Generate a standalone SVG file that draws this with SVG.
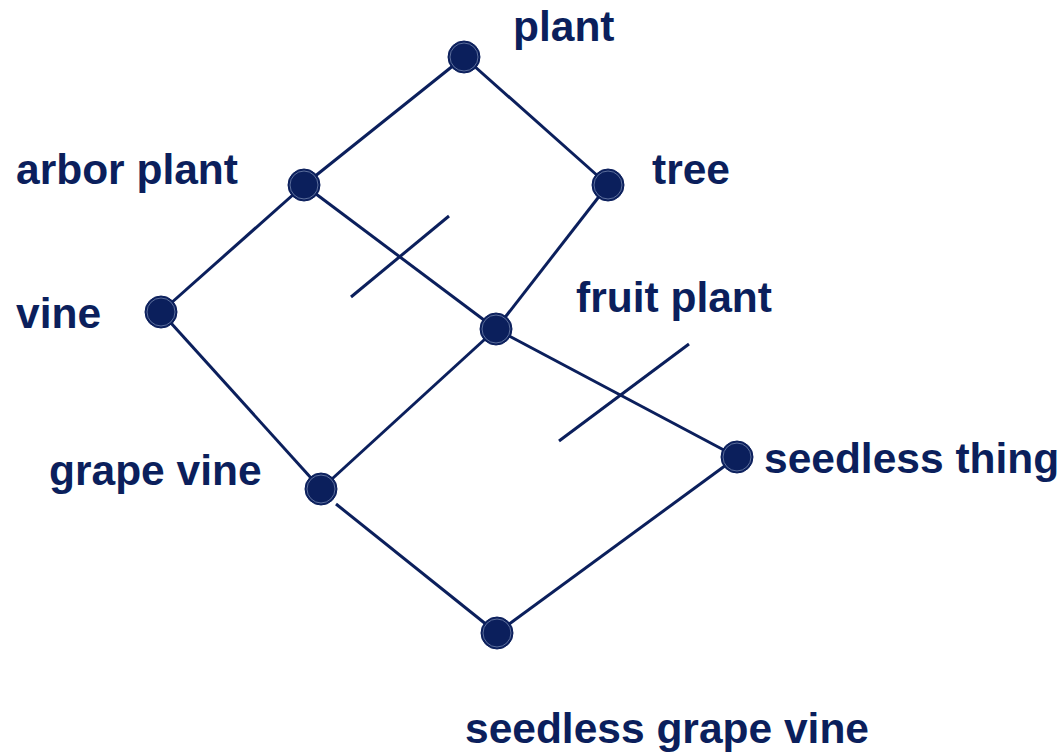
<svg xmlns="http://www.w3.org/2000/svg" width="1064" height="754" viewBox="0 0 1064 754">
<style>
.edge{stroke:#0b1f5c;stroke-width:3;fill:none;stroke-linecap:butt}
.dot{fill:#0b1f5c;stroke:#0b1f5c;stroke-width:1}
.ring{fill:none;stroke:#8090b8;stroke-width:0.7}
.lbl{font-family:"Liberation Sans",Arial,sans-serif;font-weight:bold;font-size:42.5px;fill:#0b1f5c}
</style>
<rect width="1064" height="754" fill="#ffffff"/>
<g id="connectors">
<line class="edge" x1="464" y1="57" x2="304" y2="185"/>
<line class="edge" x1="464" y1="57" x2="608" y2="185"/>
<line class="edge" x1="304" y1="185" x2="161" y2="312"/>
<line class="edge" x1="304" y1="185" x2="496" y2="329"/>
<line class="edge" x1="608" y1="185" x2="496" y2="329"/>
<line class="edge" x1="161" y1="312" x2="321" y2="489"/>
<line class="edge" x1="496" y1="329" x2="321" y2="489"/>
<line class="edge" x1="496" y1="329" x2="737" y2="457"/>
<line class="edge" x1="336" y1="504" x2="497" y2="633"/>
<line class="edge" x1="737" y1="457" x2="497" y2="633"/>
<line class="edge" x1="351" y1="297" x2="449" y2="216"/>
<line class="edge" x1="559" y1="441" x2="689" y2="344"/>
</g>
<g id="node-plant"><circle class="dot" cx="464" cy="57" r="16"/><circle class="ring" cx="464" cy="57" r="14"/><text class="lbl" x="513" y="41">plant</text></g>
<g id="node-arbor-plant"><circle class="dot" cx="304" cy="185" r="16"/><circle class="ring" cx="304" cy="185" r="14"/><text class="lbl" x="16" y="184">arbor plant</text></g>
<g id="node-tree"><circle class="dot" cx="608" cy="185" r="16"/><circle class="ring" cx="608" cy="185" r="14"/><text class="lbl" x="652" y="184">tree</text></g>
<g id="node-vine"><circle class="dot" cx="161" cy="312" r="16"/><circle class="ring" cx="161" cy="312" r="14"/><text class="lbl" x="16" y="328">vine</text></g>
<g id="node-fruit-plant"><circle class="dot" cx="496" cy="329" r="16"/><circle class="ring" cx="496" cy="329" r="14"/><text class="lbl" x="576" y="312">fruit plant</text></g>
<g id="node-grape-vine"><circle class="dot" cx="321" cy="489" r="16"/><circle class="ring" cx="321" cy="489" r="14"/><text class="lbl" x="49" y="485">grape vine</text></g>
<g id="node-seedless-thing"><circle class="dot" cx="737" cy="457" r="16"/><circle class="ring" cx="737" cy="457" r="14"/><text class="lbl" x="764" y="473">seedless thing</text></g>
<g id="node-seedless-grape-vine"><circle class="dot" cx="497" cy="633" r="16"/><circle class="ring" cx="497" cy="633" r="14"/><text class="lbl" x="465" y="743">seedless grape vine</text></g>
</svg>
